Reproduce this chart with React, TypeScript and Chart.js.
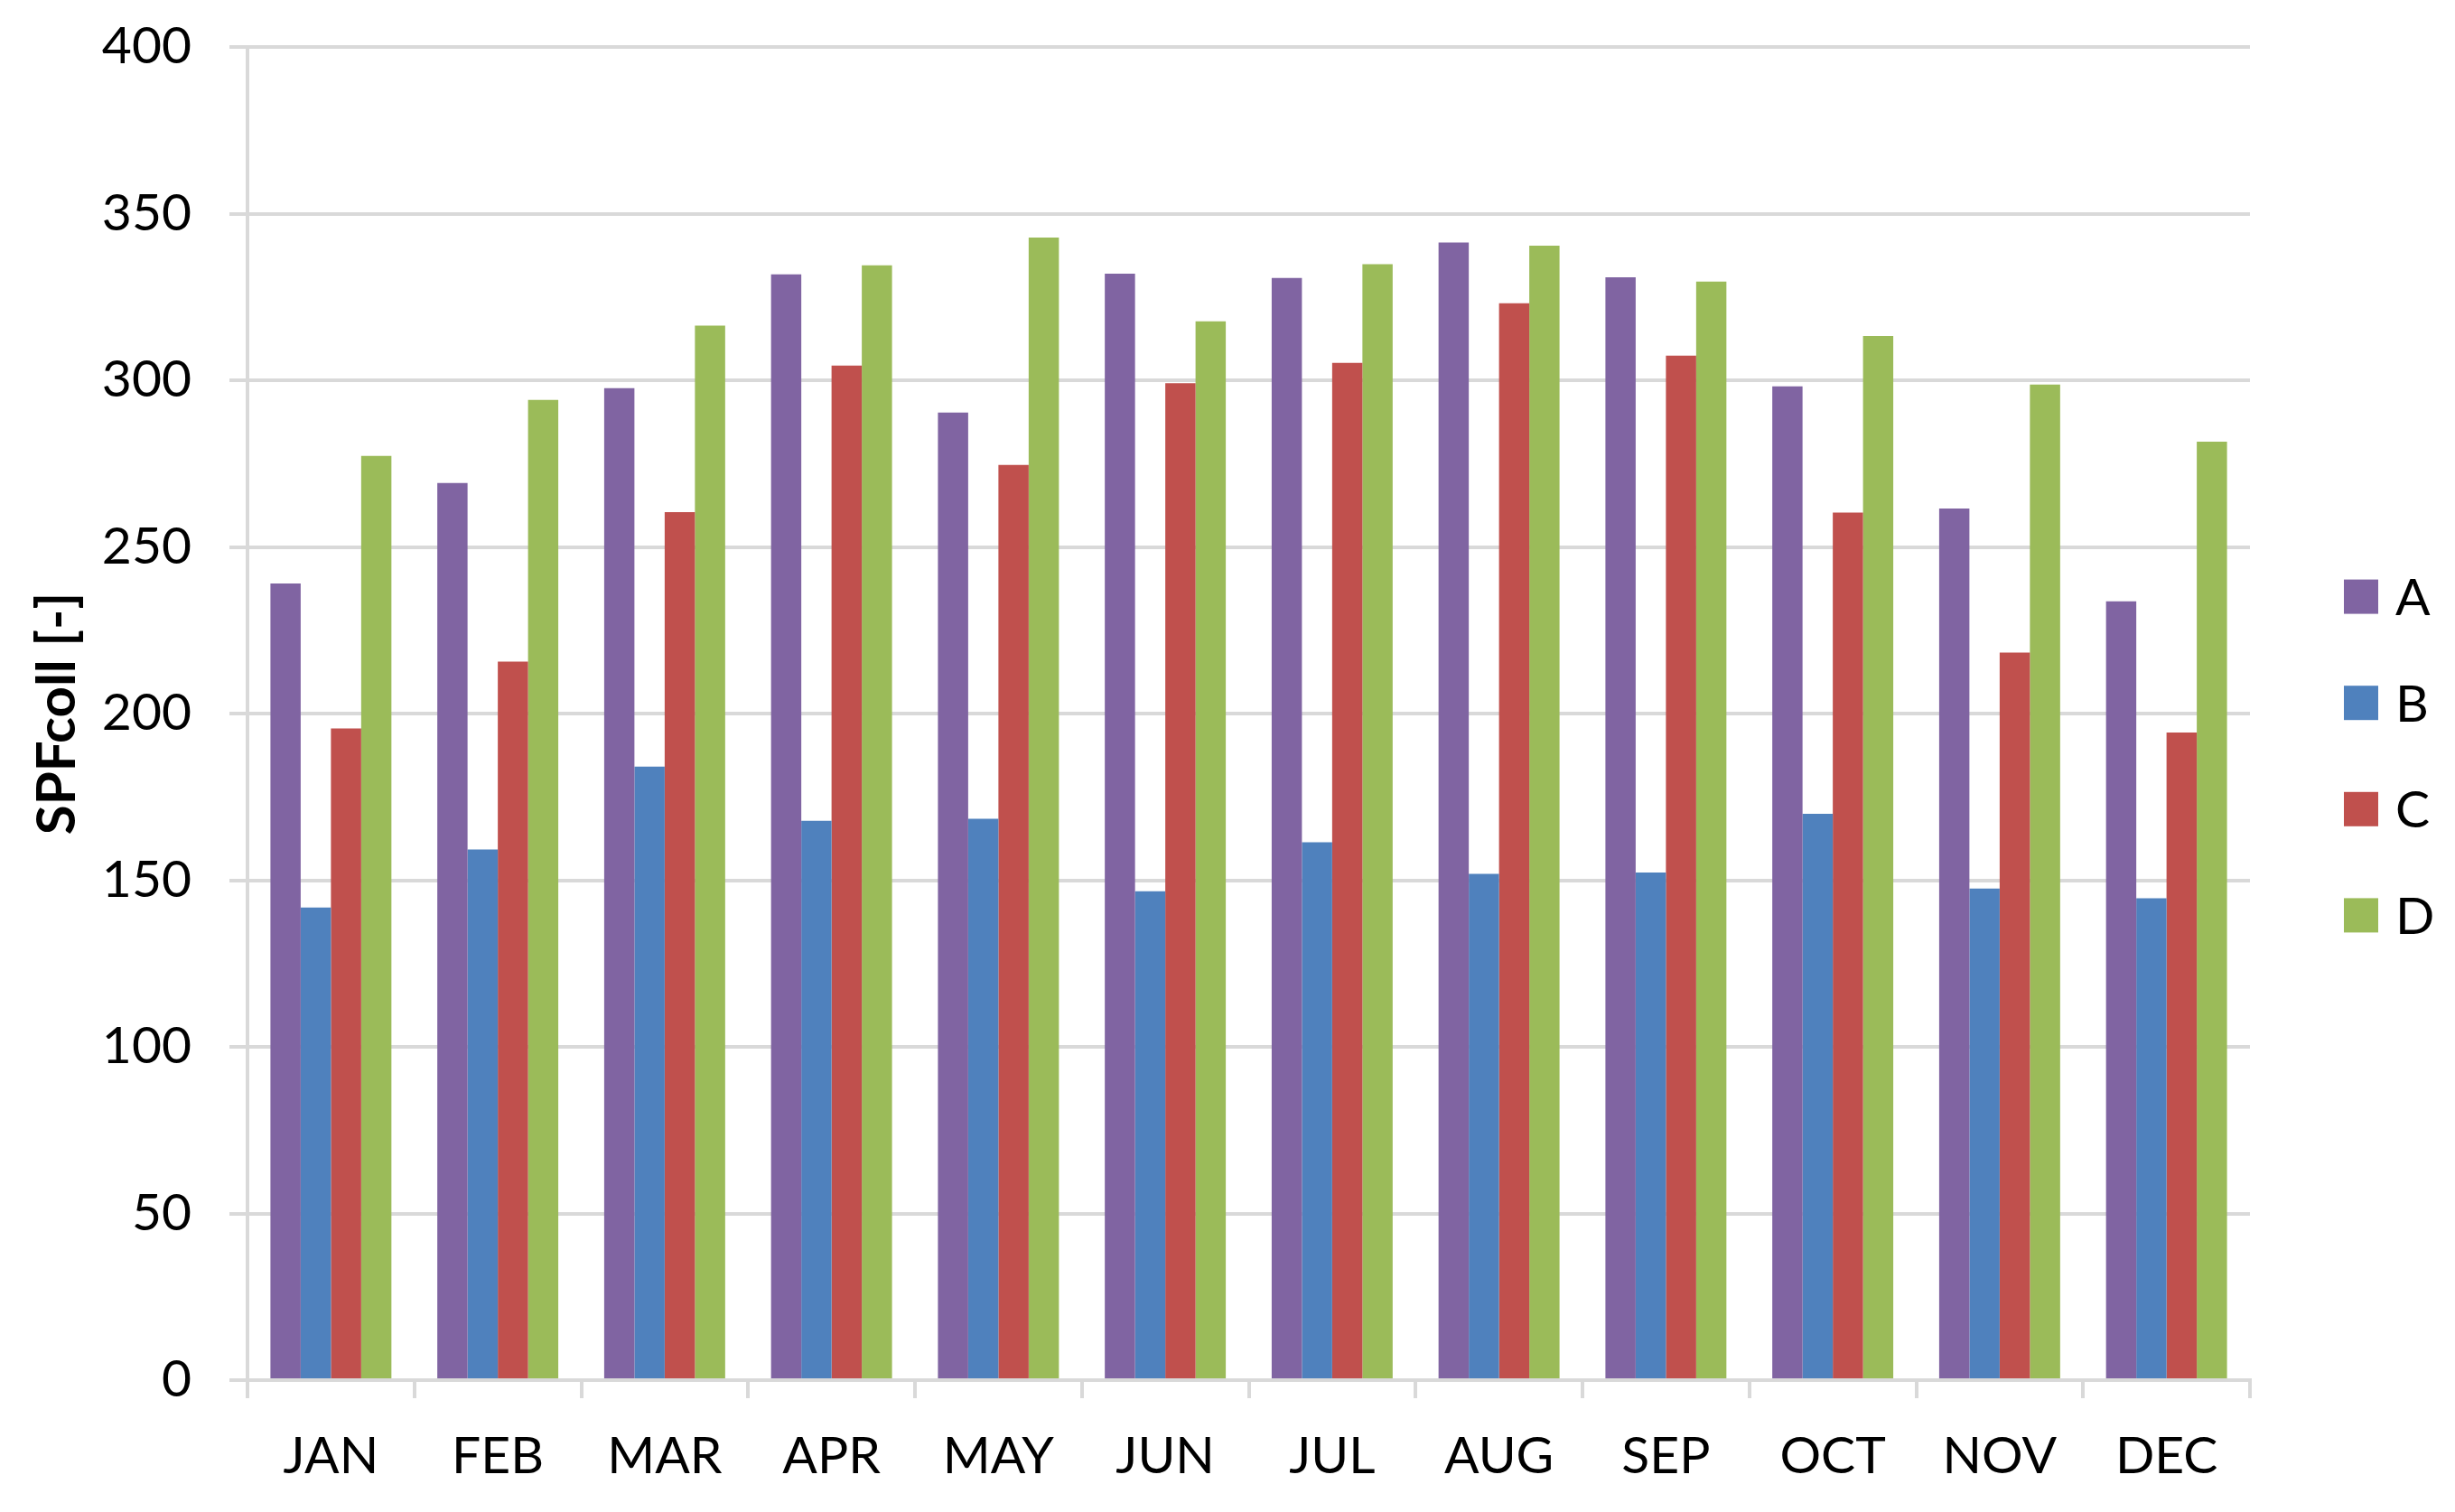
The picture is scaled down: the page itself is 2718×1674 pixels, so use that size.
import React, { useEffect, useRef } from "react";
import { Chart, registerables } from "chart.js";

Chart.register(...registerables);

const months = ["JAN", "FEB", "MAR", "APR", "MAY", "JUN", "JUL", "AUG", "SEP", "OCT", "NOV", "DEC"];
const seriesNames = ["A", "B", "C", "D"];
const seriesA = [239.0, 269.2, 297.6, 331.8, 290.3, 332.0, 330.7, 341.3, 330.9, 298.2, 261.5, 233.7];
const seriesB = [141.8, 159.2, 184.1, 167.8, 168.4, 146.7, 161.4, 151.9, 152.3, 169.9, 147.5, 144.6];
const seriesC = [195.5, 215.6, 260.4, 304.4, 274.6, 299.1, 305.2, 323.1, 307.4, 260.3, 218.3, 194.3];
const seriesD = [277.3, 294.1, 316.4, 334.5, 342.8, 317.7, 334.8, 340.4, 329.6, 313.3, 298.7, 281.6];
const seriesColors = ["#8064A2", "#4F81BD", "#C0504D", "#9BBB59"];
const yMin = 0;
const yMax = 400;
const yStep = 50;
const yTitle = "SPFcoll [-]";

const FONT = "Lato";
const GRID = "#D9D9D9";

const legendPlugin = {
  id: "customLegend",
  afterDraw(chart: any) {
    const { ctx, chartArea, height } = chart;
    const box = 38;
    const spacing = 117.6;
    const n = chart.data.datasets.length;
    const cy0 = height / 2 - (spacing * (n - 1)) / 2;
    const x = chartArea.right + 104;
    ctx.save();
    ctx.font = `57px ${FONT}`;
    ctx.textBaseline = "middle";
    ctx.textAlign = "left";
    chart.data.datasets.forEach((ds: any, i: number) => {
      const cy = cy0 + i * spacing;
      ctx.fillStyle = ds.backgroundColor;
      ctx.fillRect(x, cy - box / 2, box, box);
      ctx.fillStyle = "#000";
      ctx.fillText(ds.label, x + box + 19, cy + 2);
    });
    ctx.restore();
  },
};

export default function App() {
  const ref = useRef<HTMLCanvasElement | null>(null);

  useEffect(() => {
    let chart: Chart | null = null;
    let cancelled = false;
    const build = () => {
      if (cancelled || !ref.current) return;
      const data = [seriesA, seriesB, seriesC, seriesD];
      chart = new Chart(ref.current, {
        type: "bar",
        data: {
          labels: months,
          datasets: seriesNames.map((name, i) => ({
            label: name,
            data: data[i],
            backgroundColor: seriesColors[i],
            borderWidth: 0,
            barPercentage: 1,
            categoryPercentage: 0.725,
          })),
        },
        options: {
          responsive: false,
          animation: false,
          devicePixelRatio: 1,
          layout: { padding: { left: 0, right: 219, top: 44, bottom: 0 } },
          plugins: {
            legend: { display: false },
            tooltip: { enabled: false },
          },
          scales: {
            x: {
              grid: {
                display: true,
                drawOnChartArea: false,
                drawTicks: true,
                tickLength: 20,
                color: GRID,
                lineWidth: 4,
                offset: true,
              },
              border: { color: GRID, width: 4 },
              ticks: { color: "#000", font: { family: FONT, size: 57 }, padding: 30, maxRotation: 0 },
              afterFit(scale: any) {
                scale.height = 138;
                scale.paddingLeft = 0;
                scale.paddingRight = 0;
              },
            },
            y: {
              min: yMin,
              max: yMax,
              ticks: { stepSize: yStep, color: "#000", font: { family: FONT, size: 57 }, padding: 42 },
              grid: { color: GRID, lineWidth: 4, tickLength: 20, drawTicks: true },
              border: { color: GRID, width: 4 },
              title: {
                display: true,
                text: yTitle,
                color: "#000",
                font: { family: FONT, size: 60, weight: "bold" },
                padding: { top: 20, bottom: 0 },
              },
              afterFit(scale: any) {
                scale.width = 266;
                scale.paddingTop = 0;
                scale.paddingBottom = 0;
              },
            },
          },
        },
        plugins: [legendPlugin],
      });
    };
    const fontsApi = (document as any).fonts;
    if (fontsApi && fontsApi.load) {
      Promise.all([fontsApi.load(`57px ${FONT}`), fontsApi.load(`bold 60px ${FONT}`)])
        .catch(() => null)
        .then(build);
    } else {
      build();
    }
    return () => {
      cancelled = true;
      if (chart) chart.destroy();
    };
  }, []);

  return <canvas ref={ref} width={2702} height={1658} style={{ display: "block" }} />;
}
